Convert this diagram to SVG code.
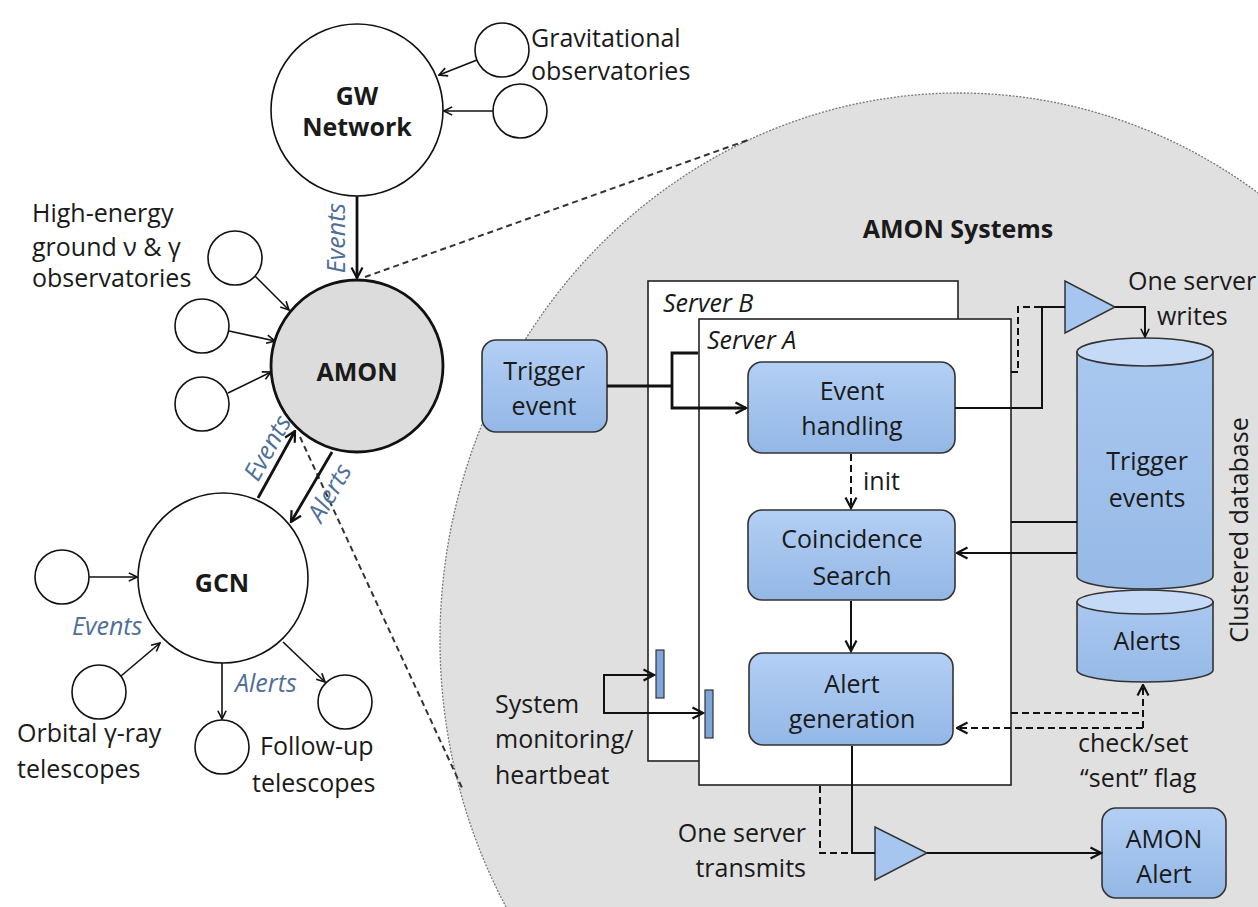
<svg xmlns="http://www.w3.org/2000/svg" width="1258" height="907" viewBox="0 0 1258 907">
<defs>
<linearGradient id="g" x1="0" y1="0" x2="0" y2="1">
<stop offset="0" stop-color="#b3cff4"/>
<stop offset="1" stop-color="#93b7e6"/>
</linearGradient>
<linearGradient id="gc" x1="0" y1="0" x2="0" y2="1">
<stop offset="0" stop-color="#a9c8f0"/>
<stop offset="1" stop-color="#96b9e6"/>
</linearGradient>
<marker id="a" viewBox="0 0 14 14" refX="12.5" refY="7" markerWidth="14" markerHeight="14" markerUnits="userSpaceOnUse" orient="auto-start-reverse">
<path d="M2,1.5 L12.5,7 L2,12.5" fill="none" stroke="#111" stroke-width="2.2"/>
</marker>
<marker id="as" viewBox="0 0 12 12" refX="10.5" refY="6" markerWidth="11" markerHeight="11" markerUnits="userSpaceOnUse" orient="auto-start-reverse">
<path d="M1.5,1.5 L10.5,6 L1.5,10.5" fill="none" stroke="#111" stroke-width="1.8"/>
</marker>
<style>
.t{font-family:'Open Sans','Liberation Sans',sans-serif;font-size:25px;fill:#1a1a1a}
.c{text-anchor:middle}
.b{font-weight:bold}
.lbl{font-style:italic;fill:#4f6f98}
.it{font-style:italic}
.box{fill:url(#g);stroke:#333;stroke-width:1.6}
.cyl{fill:url(#gc);stroke:#333;stroke-width:1.6}
.cyltop{fill:#c4daf7;stroke:#333;stroke-width:1.6}
.node{fill:#fff;stroke:#111;stroke-width:1.6}
.srv{fill:#fff;stroke:#222;stroke-width:1.6}
.ln{stroke:#111;stroke-width:2;fill:none}
.thin{stroke-width:1.6}
.thick{stroke-width:2.8}
.dash{stroke-dasharray:7 4}
.zoom{stroke:#333;stroke-width:2;fill:none;stroke-dasharray:6 4}
.bar{fill:#7ea6dc;stroke:#333;stroke-width:1.2}
</style>
</defs>
<rect width="1258" height="907" fill="#fff"/>

<g id="amon-systems-area">
<ellipse cx="959" cy="640" rx="519" ry="547" fill="#e0e0e0" stroke="#777" stroke-width="1.3" stroke-dasharray="2 1.5"/>
<text class="t b c" x="958" y="238" font-size="26">AMON Systems</text>
</g>

<g id="zoom-lines">
<line class="zoom" x1="365" y1="277" x2="748" y2="140"/>
<line class="zoom" x1="300" y1="437" x2="463" y2="790"/>
</g>

<g id="gw-network">
<circle class="node" cx="357" cy="110" r="86"/>
<text class="t b c" x="357" y="105" font-size="20">GW</text>
<text class="t b c" x="357" y="136" font-size="20">Network</text>
</g>
<g id="gw-observatories">
<circle class="node" cx="502" cy="50" r="27"/>
<circle class="node" cx="520" cy="111" r="27"/>
<text class="t" x="531" y="47">Gravitational</text>
<text class="t" x="531" y="80">observatories</text>
</g>
<g id="amon">
<circle cx="357" cy="366" r="86" fill="#dcdcdc" stroke="#111" stroke-width="2.8"/>
<text class="t b c" x="357" y="381" font-size="29">AMON</text>
</g>
<g id="ground-observatories">
<circle class="node" cx="235" cy="258" r="27"/>
<circle class="node" cx="202" cy="326" r="27"/>
<circle class="node" cx="202" cy="404" r="27"/>
<text class="t" x="32" y="222">High-energy</text>
<text class="t" x="32" y="256">ground ν &amp; γ</text>
<text class="t" x="32" y="287">observatories</text>
</g>
<g id="gcn">
<circle class="node" cx="223" cy="578" r="85"/>
<text class="t b c" x="222" y="592" font-size="28">GCN</text>
</g>
<g id="orbital-telescopes">
<circle class="node" cx="62" cy="577" r="27"/>
<circle class="node" cx="99" cy="692" r="27"/>
<text class="t" x="17" y="742">Orbital γ-ray</text>
<text class="t" x="17" y="778">telescopes</text>
</g>
<g id="followup-telescopes">
<circle class="node" cx="222" cy="747" r="27"/>
<circle class="node" cx="345" cy="702" r="27"/>
<text class="t" x="260" y="755">Follow-up</text>
<text class="t" x="252" y="792">telescopes</text>
</g>

<g id="server-b">
<rect class="srv" x="648" y="281" width="310" height="480"/>
<text class="t it" x="663" y="312">Server B</text>
</g>
<g id="server-a">
<rect class="srv" x="699" y="319" width="312" height="466"/>
<text class="t it" x="707" y="349">Server A</text>
</g>
<g id="trigger-event">
<rect class="box" x="482" y="340" width="125" height="92" rx="14"/>
<text class="t c" x="544" y="380" font-size="24">Trigger</text>
<text class="t c" x="544" y="415" font-size="24">event</text>
</g>
<g id="event-handling">
<rect class="box" x="748" y="362" width="207" height="91" rx="14"/>
<text class="t c" x="852" y="400" font-size="24">Event</text>
<text class="t c" x="852" y="435" font-size="24">handling</text>
</g>
<g id="coincidence-search">
<rect class="box" x="748" y="510" width="207" height="90" rx="14"/>
<text class="t c" x="852" y="548" font-size="24">Coincidence</text>
<text class="t c" x="852" y="585" font-size="24">Search</text>
</g>
<g id="alert-generation">
<rect class="box" x="749" y="653" width="204" height="92" rx="14"/>
<text class="t c" x="852" y="693" font-size="24">Alert</text>
<text class="t c" x="852" y="728" font-size="24">generation</text>
</g>
<g id="init-label">
<text class="t" x="863" y="490" font-size="24">init</text>
</g>
<g id="heartbeat">
<text class="t" x="495" y="713" font-size="24">System</text>
<text class="t" x="495" y="748" font-size="24">monitoring/</text>
<text class="t" x="495" y="784" font-size="24">heartbeat</text>
</g>
<g id="write-amp">
<polygon points="1065,281 1065,333 1115,307" fill="#a6c6ef" stroke="#333" stroke-width="1.5"/>
<text class="t" x="1128" y="290" font-size="24">One server</text>
<text class="t" x="1157" y="325" font-size="24">writes</text>
</g>
<g id="database">
<path class="cyl" d="M1077,602 V670 A68,12 0 0 0 1213,670 V602 Z"/>
<ellipse class="cyltop" cx="1145" cy="602" rx="68" ry="12"/>
<path class="cyl" d="M1077,352 V576 A68,13 0 0 0 1213,576 V352 Z"/>
<ellipse class="cyltop" cx="1145" cy="352" rx="68" ry="14"/>
<text class="t c" x="1147" y="470" font-size="24">Trigger</text>
<text class="t c" x="1147" y="507" font-size="24">events</text>
<text class="t c" x="1147" y="650" font-size="24">Alerts</text>
<text class="t c" transform="translate(1248,530) rotate(-90)" font-size="25">Clustered database</text>
</g>
<g id="check-set">
<text class="t" x="1078" y="752" font-size="24">check/set</text>
<text class="t" x="1080" y="787" font-size="24">“sent” flag</text>
</g>
<g id="transmit-amp">
<polygon points="875,827 875,880 927,853" fill="#a6c6ef" stroke="#333" stroke-width="1.5"/>
<text class="t" x="806" y="842" font-size="24" text-anchor="end">One server</text>
<text class="t" x="806" y="877" font-size="24" text-anchor="end">transmits</text>
</g>
<g id="amon-alert">
<rect class="box" x="1102" y="808" width="124" height="90" rx="14"/>
<text class="t c" x="1164" y="848" font-size="24">AMON</text>
<text class="t c" x="1164" y="883" font-size="24">Alert</text>
</g>

<g id="connectors">
<line class="ln thin" x1="477" y1="60" x2="439" y2="75" marker-end="url(#as)"/>
<line class="ln thin" x1="493" y1="111" x2="444" y2="111" marker-end="url(#as)"/>
<line class="ln thick" x1="357" y1="196" x2="357" y2="278" marker-end="url(#a)"/>
<line class="ln thin" x1="255" y1="276" x2="289" y2="310" marker-end="url(#as)"/>
<line class="ln thin" x1="229" y1="331" x2="275" y2="341" marker-end="url(#as)"/>
<line class="ln thin" x1="228" y1="393" x2="271" y2="372" marker-end="url(#as)"/>
<line class="ln thick" x1="258" y1="498" x2="295" y2="431" marker-end="url(#a)"/>
<line class="ln thick" x1="332" y1="452" x2="291" y2="522" marker-end="url(#a)"/>
<line class="ln thin" x1="89" y1="577" x2="137" y2="577" marker-end="url(#as)"/>
<line class="ln thin" x1="121" y1="676" x2="160" y2="643" marker-end="url(#as)"/>
<line class="ln thin" x1="222" y1="663" x2="222" y2="719" marker-end="url(#as)"/>
<line class="ln thin" x1="283" y1="642" x2="325" y2="682" marker-end="url(#as)"/>
<path class="ln thick" d="M607,386 H672"/>
<path class="ln thick" d="M698,353 H672 V408 H746" marker-end="url(#a)"/>
<path class="ln" d="M955,408 H1042 V307 H1065"/>
<path class="ln dash" d="M1011,372 H1018 V307 H1042"/>
<path class="ln" d="M1115,307 H1145 V337" marker-end="url(#as)"/>
<path class="ln" d="M1011,522 H1077"/>
<path class="ln" d="M1077,553 H957" marker-end="url(#a)"/>
<path class="ln dash" d="M851,454 V508" marker-end="url(#a)"/>
<path class="ln" d="M851,601 V651" marker-end="url(#a)"/>
<path class="ln" d="M654,675 H604 V713 H703" marker-start="url(#a)" marker-end="url(#a)"/>
<path class="ln dash" d="M1011,713 H1143" stroke-width="2.8"/>
<path class="ln dash" d="M1143,728 V685" stroke-width="2.8" marker-end="url(#a)"/>
<path class="ln dash" d="M1143,728 H957" stroke-width="2.8" marker-end="url(#a)"/>
<path class="ln" d="M852,746 V853 H875"/>
<path class="ln dash" d="M820,786 V853 H852"/>
<path class="ln" d="M927,853 H1101" marker-end="url(#a)"/>
</g>

<g id="heartbeat-bars">
<rect class="bar" x="656" y="650" width="8" height="48"/>
<rect class="bar" x="705" y="690" width="8" height="48"/>
</g>

<g id="edge-labels">
<text class="t lbl c" transform="translate(345,238) rotate(-90)">Events</text>
<text class="t lbl c" transform="translate(275,452) rotate(-61)">Events</text>
<text class="t lbl c" transform="translate(337,497) rotate(-60)">Alerts</text>
<text class="t lbl" x="72" y="635">Events</text>
<text class="t lbl" x="235" y="692">Alerts</text>
</g>
</svg>
